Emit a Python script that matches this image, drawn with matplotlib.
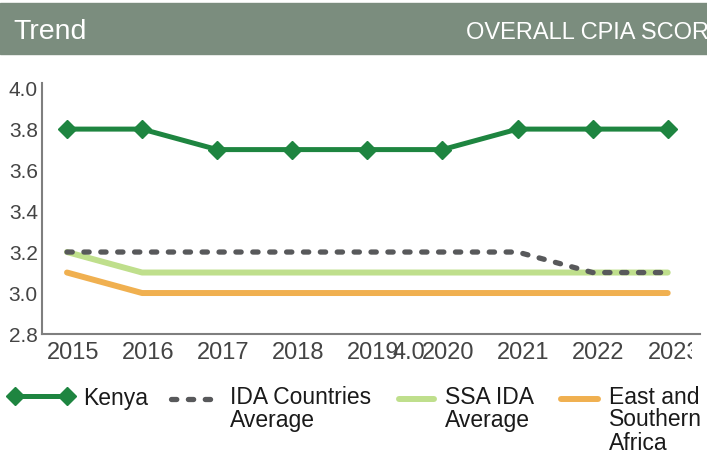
import matplotlib
matplotlib.use("Agg")
import matplotlib.pyplot as plt
from matplotlib.patches import Rectangle
from matplotlib.transforms import Bbox, ScaledTranslation
from matplotlib.legend_handler import HandlerLine2D
import numpy as np

plt.rcParams["font.family"] = ["Liberation Sans", "DejaVu Sans"]

years = [2015, 2016, 2017, 2018, 2019, 2020, 2021, 2022, 2023]
kenya = [3.8, 3.8, 3.7, 3.7, 3.7, 3.7, 3.8, 3.8, 3.8]
ida_avg = [3.2, 3.2, 3.2, 3.2, 3.2, 3.2, 3.2, 3.1, 3.1]
ssa_ida = [3.2, 3.1, 3.1, 3.1, 3.1, 3.1, 3.1, 3.1, 3.1]
esa = [3.1, 3.0, 3.0, 3.0, 3.0, 3.0, 3.0, 3.0, 3.0]
yticks = [2.8, 3.0, 3.2, 3.4, 3.6, 3.8, 4.0]

W, H = 707, 455
fig = plt.figure(figsize=(W / 100, H / 100), dpi=100)

# header band
fig.patches.append(Rectangle((0, 1 - 54 / H), 1, 51 / H, transform=fig.transFigure,
                             color="#7b8d7e", zorder=0))
fig.text(13 / W, 1 - 39 / H, "Trend", color="white", fontsize=20.5, va="baseline", ha="left")
fig.text(466 / W, 1 - 39 / H, "OVERALL CPIA SCORE", color="white", fontsize=17,
         va="baseline", ha="left")

ax = fig.add_axes([42 / W, 1 - 334 / H, (700 - 42) / W, (334 - 83) / H])
ax.set_xlim(2014.667, 2023.43)
ax.set_ylim(2.8, 4.025)

l_esa, = ax.plot(years, esa, color="#f0b050", lw=4.3, solid_capstyle="round")
l_ssa, = ax.plot(years, ssa_ida, color="#bfdf8c", lw=4.3, solid_capstyle="round")
l_ida, = ax.plot(years, ida_avg, color="#58595b", lw=3.8, dashes=(1.0, 2.2), dash_capstyle="round")
l_ken, = ax.plot(years, kenya, color="#1e8540", lw=3.6, marker="D", markersize=9)

for s in ["top", "right"]:
    ax.spines[s].set_visible(False)
for s in ["left", "bottom"]:
    ax.spines[s].set_color("#7f7f7f")
    ax.spines[s].set_linewidth(1.5)

ax.set_yticks(yticks)
ax.set_yticklabels([f"{v:.1f}" for v in yticks])
ax.set_xticks(years)
ax.set_xticklabels([str(y) for y in years])
ax.tick_params(axis="y", length=0, pad=3, labelsize=15, labelcolor="#444444")
ax.tick_params(axis="x", length=0, pad=6, labelsize=17, labelcolor="#444444")

# stray label seen in the original, on the same baseline as the year labels
trans, va, ha = ax.get_xaxis_text1_transform(6)
ax.text(2019.55, 0, "4.0", transform=trans, ha="center", va=va,
        fontsize=17, color="#444444")

# year labels sit a little right of their points; the last one is cut at the edge
fig.canvas.draw()
shift = ScaledTranslation(6 / 100, 0, fig.dpi_scale_trans)
for lab in ax.get_xticklabels():
    lab.set_transform(lab.get_transform() + shift)
    lab.set_clip_box(Bbox.from_extents(0, 0, 692, H))
    lab.set_clip_on(True)


class FirstLineHandler(HandlerLine2D):
    # puts the key next to the first line of a wrapped label
    def __init__(self, nlines, pitch, **kw):
        super().__init__(**kw)
        self.shift = (nlines - 1) / 2 * pitch

    def create_artists(self, legend, orig_handle, xdescent, ydescent, width, height, fontsize, trans):
        arts = super().create_artists(legend, orig_handle, xdescent, ydescent, width, height,
                                      fontsize, trans)
        for a in arts:
            a.set_ydata(np.asarray(a.get_ydata()) + self.shift)
        return arts


pitch_px = 22
pitch = pitch_px * 0.72
entries = [
    # handle, label, x of key start, key length, text pad
    (l_ken, "Kenya", 15, 2.27, 0.7),
    (l_ida, "IDA Countries\nAverage", 170.5, 1.83, 0.76),
    (l_ssa, "SSA IDA\nAverage", 399, 1.53, 0.48),
    (l_esa, "East and\nSouthern\nAfrica", 561, 1.61, 0.48),
]
fs = 16.5
for h, lbl, x0, hl, pad in entries:
    n = lbl.count("\n") + 1
    yc = 398 + (n - 1) / 2 * pitch_px
    leg = fig.legend([h], [lbl], loc="center left", bbox_to_anchor=(x0 / W, 1 - yc / H),
                     frameon=False, fontsize=fs, handlelength=hl, handletextpad=pad,
                     borderpad=0, borderaxespad=0, numpoints=2, labelcolor="#1a1a1a",
                     handler_map={h: FirstLineHandler(n, pitch, marker_pad=0)})
    for t in leg.get_texts():
        t.set_linespacing(1.0)

fig.savefig("out.png", dpi=100)
